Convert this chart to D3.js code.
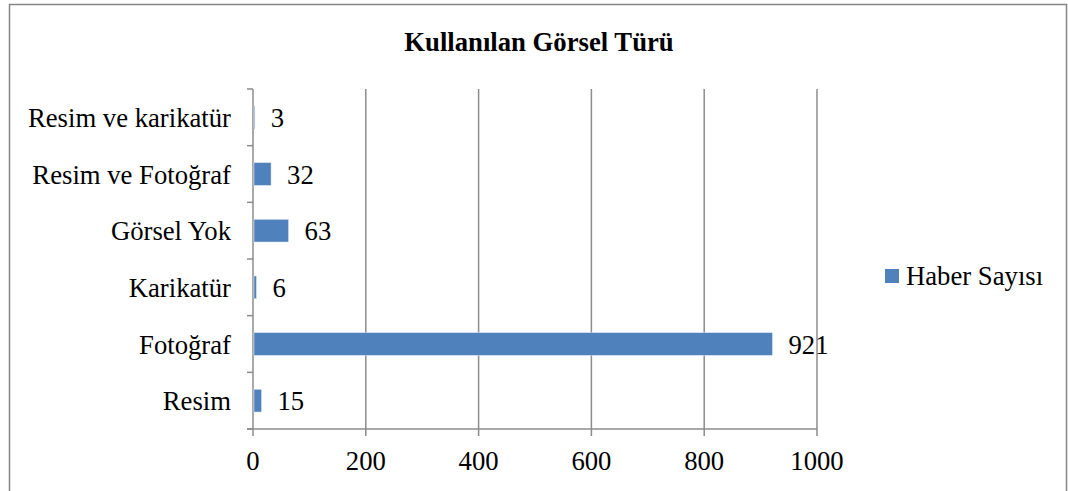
<!DOCTYPE html>
<html><head><meta charset="utf-8">
<script src="https://cdn.jsdelivr.net/npm/d3@7"></script>
<style>body{margin:0;background:#fff}svg{display:block}svg text{font-family:"Liberation Serif","Times New Roman",serif}</style>
</head><body>
<script>
const categories = ["Resim ve karikatür","Resim ve Fotoğraf","Görsel Yok","Karikatür","Fotoğraf","Resim"];
const values = [3,32,63,6,921,15];
const xTicks = [0,200,400,600,800,1000];
const seriesName = "Haber Sayısı";
const title = "Kullanılan Görsel Türü";

const W=1068,H=491;
const FS=26.7;
const svg=d3.select("body").append("svg").attr("width",W).attr("height",H);
svg.append("rect").attr("x",9.5).attr("y",4.5).attr("width",1057).attr("height",500).attr("fill","#fff").attr("stroke","#868686").attr("stroke-width",1.5);

const L=253,R=817,T=89,B=429;
const x=d3.scaleLinear().domain([0,1000]).range([L,R]);
const y=d3.scaleBand().domain(categories).range([T,B]).paddingInner(0.6).paddingOuter(0.3);
const yb=d3.scaleBand().domain(categories).range([T,B]);

svg.append("text").attr("x",539).attr("y",51).attr("text-anchor","middle").attr("font-weight","bold").attr("font-size",FS).text(title);

const grid="#8c8c8c";
svg.append("g").selectAll("line").data(xTicks.filter(d=>d>0)).join("line")
 .attr("x1",d=>x(d)).attr("x2",d=>x(d)).attr("y1",T).attr("y2",B+7).attr("stroke",grid).attr("stroke-width",1.5);
svg.append("line").attr("x1",L).attr("x2",L).attr("y1",T).attr("y2",B+7).attr("stroke",grid).attr("stroke-width",1.5);
svg.append("g").selectAll("line").data(categories.concat(["_end"])).join("line")
 .attr("x1",L-6).attr("x2",L).attr("y1",(d,i)=>i<categories.length?yb(d):B).attr("y2",(d,i)=>i<categories.length?yb(d):B).attr("stroke",grid).attr("stroke-width",1.5);
svg.append("line").attr("x1",L-6).attr("x2",R).attr("y1",B).attr("y2",B).attr("stroke",grid).attr("stroke-width",1.5);

svg.append("g").selectAll("rect").data(values).join("rect")
 .attr("x",x(0)+1).attr("y",(d,i)=>y(categories[i])).attr("width",d=>Math.max(0,x(d)-x(0)-1)).attr("height",y.bandwidth())
 .attr("fill","#4F81BD").attr("stroke","#dbe5f1").attr("stroke-width",0.5);

svg.append("g").selectAll("text").data(values).join("text")
 .attr("x",d=>x(d)+16).attr("y",(d,i)=>yb(categories[i])+yb.bandwidth()/2+9.5)
 .attr("font-size",FS).attr("fill","#000").text(d=>d);

svg.append("g").selectAll("text").data(categories).join("text")
 .attr("x",231).attr("y",d=>yb(d)+yb.bandwidth()/2+9.5).attr("text-anchor","end")
 .attr("font-size",FS).attr("fill","#000").text(d=>d);

svg.append("g").selectAll("text").data(xTicks).join("text")
 .attr("x",d=>x(d)).attr("y",470).attr("text-anchor","middle")
 .attr("font-size",FS).attr("fill","#000").text(d=>d);

svg.append("rect").attr("x",885).attr("y",269).attr("width",14).attr("height",14).attr("fill","#4F81BD");
svg.append("text").attr("x",906).attr("y",285).attr("font-size",FS).attr("fill","#000").text(seriesName);
</script>
</body></html>
